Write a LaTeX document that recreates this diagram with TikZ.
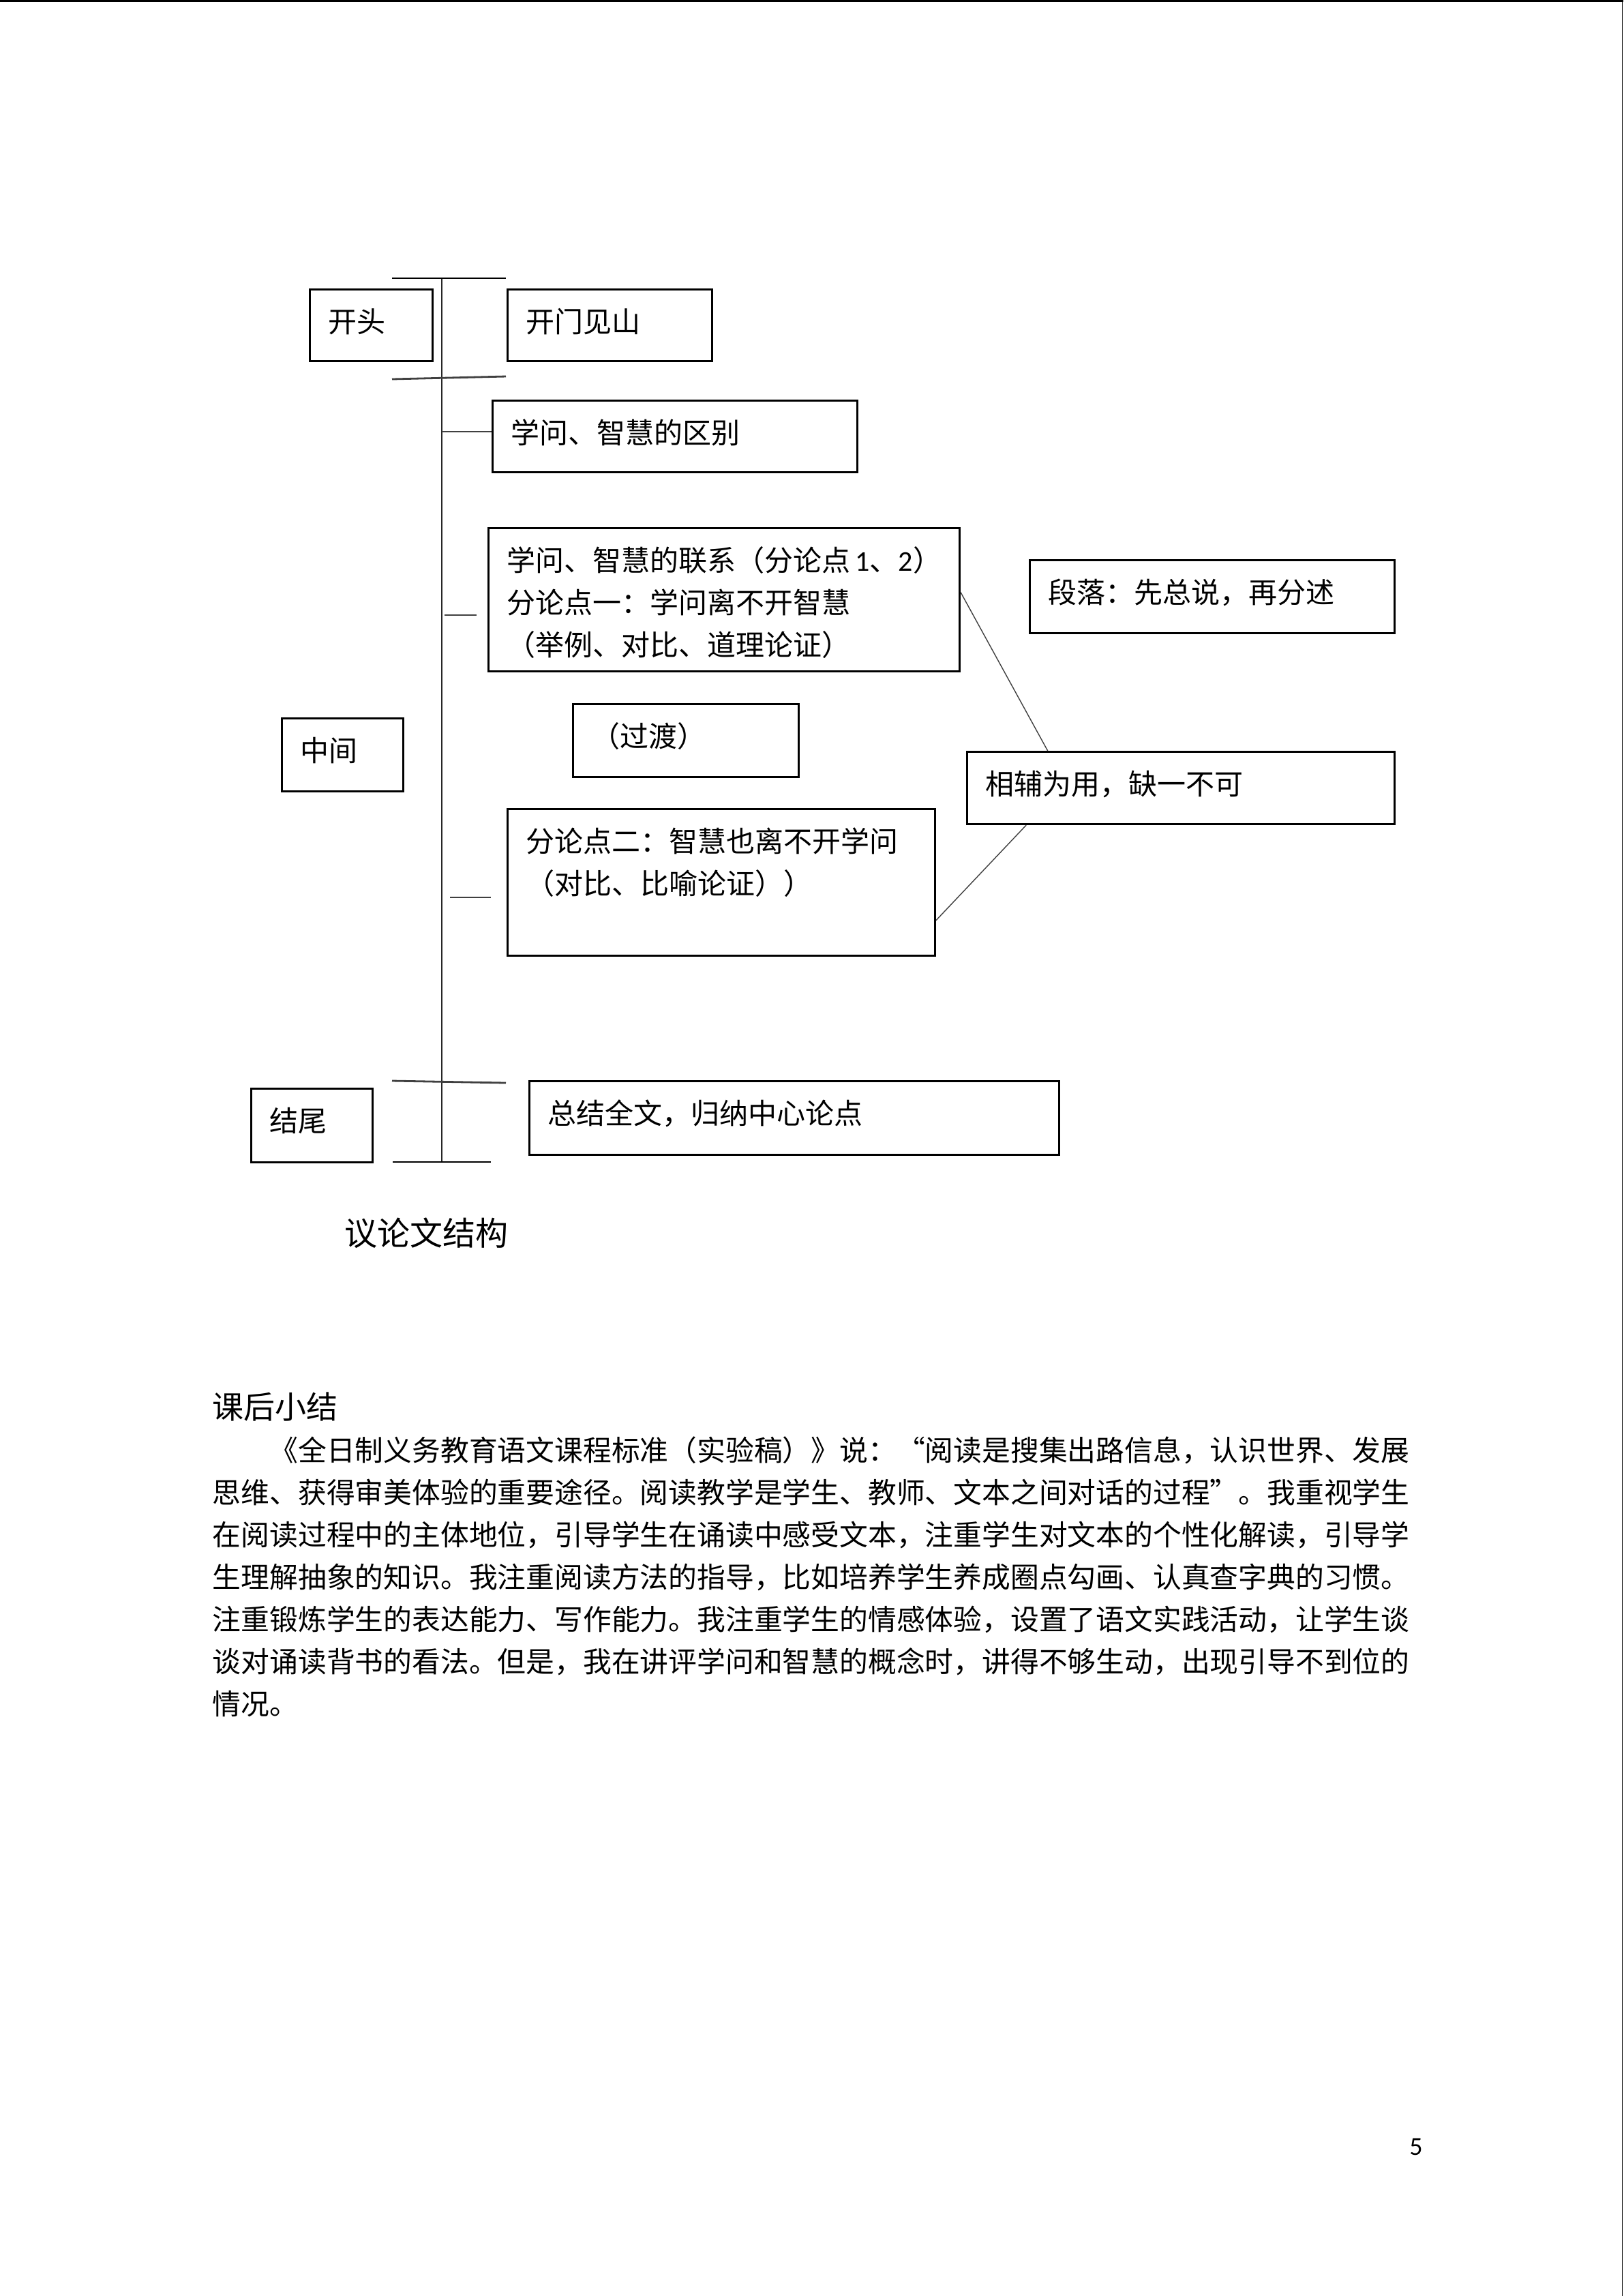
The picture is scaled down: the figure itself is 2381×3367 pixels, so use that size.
\documentclass[tikz,border=0pt]{standalone}
\usepackage{fontspec}
\usetikzlibrary{calc}
\newfontfamily\cjk{Noto Sans CJK SC}
\newfontfamily\numfont{Carlito}

\begin{document}
\begin{tikzpicture}[
    x=0.25pt, y=-0.25pt,
    box/.style={draw, line width=0.75pt, anchor=north west, inner xsep=6.75pt, inner ysep=0pt, align=left, text height=15.75pt, font=\cjk\fontsize{10.5pt}{15.5pt}\selectfont},
    crossbar/.style={line width=0.7pt},
    stem/.style={line width=0.5pt, black!85},
    tick/.style={line width=0.7pt, black!75},
    tie/.style={line width=0.35pt, black!75},
]
\useasboundingbox (0,0) rectangle (2381,3367);
\fill[white] (0,0) rectangle (2381,3367);
\draw[line width=0.8pt] (0,1.6) -- (2381,1.6);
\draw[line width=0.3pt] (2379.5,0) -- (2379.5,3367);

\node[box, text width=31.5pt, text depth=10.5pt] (headL) at (453,423) {开头};
\node[box, text width=61.5pt, text depth=10.5pt] (headR) at (743,423) {开门见山};
\node[box, text width=120.25pt, text depth=10.5pt] (diff) at (721,586) {学问、智慧的区别};
\node[box, text width=159.25pt, text depth=36.75pt] (relate) at (715,773) {学问、智慧的联系（分论点{\numfont\,1}、{\numfont 2}）\\分论点一：学问离不开智慧\\（举例、对比、道理论证）};
\node[box, text width=120.25pt, text depth=11pt] (para) at (1509,820) {段落：先总说，再分述};
\node[box, text width=69.25pt, text depth=11pt] (trans) at (839,1031) {（过渡）};
\node[box, text width=31pt, text depth=11pt] (midL) at (412,1052) {中间};
\node[box, text width=143.25pt, text depth=10.75pt] (both) at (1417,1101) {相辅为用，缺一不可};
\node[box, text width=143.25pt, text depth=38pt] (second) at (743,1185) {分论点二：智慧也离不开学问\\（对比、比喻论证））};
\node[box, text width=31pt, text depth=11.25pt] (tailL) at (367,1595) {结尾};
\node[box, text width=180.75pt, text depth=11.25pt] (tailR) at (775,1584) {总结全文，归纳中心论点};

\coordinate (stemtop) at (648,408);
\coordinate (stembot) at (648,1703);
\draw[stem] (stemtop) -- (stembot);
\draw[crossbar] (575,408) -- (742,408);
\draw[crossbar, black!75] (575,556) -- (742,552);
\draw[crossbar, black!75] (575,1585) -- (742,1588);
\draw[crossbar] (576,1704) -- (720,1704);

\draw[tick] (stemtop |- 0,633) -- (diff.west |- 0,633);
\draw[tick] (652,902) -- (699,902);
\draw[tick] (660,1316) -- (720,1316);

\draw[tie] ([yshift=2.75pt]relate.east) -- ($(both.north west)!0.19!(both.north east)$);
\draw[tie] ($(second.north east)!0.755!(second.south east)$) -- ($(both.south west)!0.14!(both.south east)$);

\node[anchor=west, inner sep=0pt, font=\cjk\fontsize{12pt}{14pt}\selectfont] (caption) at (505,1808) {议论文结构};

\node[anchor=west, inner sep=0pt, font=\cjk\fontsize{11.5pt}{14pt}\selectfont] (sumtitle) at (311,2063) {课后小结};
\node[anchor=base west, inner sep=0pt, text width=440pt, align=left, font=\cjk\fontsize{10.45pt}{15.5pt}\selectfont] (summary) at (311,2142) {\hspace*{2em}《全日制义务教育语文课程标准（实验稿）》说：“阅读是搜集出路信息，认识世界、发展\\思维、获得审美体验的重要途径。阅读教学是学生、教师、文本之间对话的过程”。我重视学生\\在阅读过程中的主体地位，引导学生在诵读中感受文本，注重学生对文本的个性化解读，引导学\\生理解抽象的知识。我注重阅读方法的指导，比如培养学生养成圈点勾画、认真查字典的习惯。\\注重锻炼学生的表达能力、写作能力。我注重学生的情感体验，设置了语文实践活动，让学生谈\\谈对诵读背书的看法。但是，我在讲评学问和智慧的概念时，讲得不够生动，出现引导不到位的\\情况。};

\node[inner sep=0pt, font=\numfont\fontsize{9.5pt}{11pt}\selectfont] (pagenum) at (2077,3148) {5};
\end{tikzpicture}
\end{document}
